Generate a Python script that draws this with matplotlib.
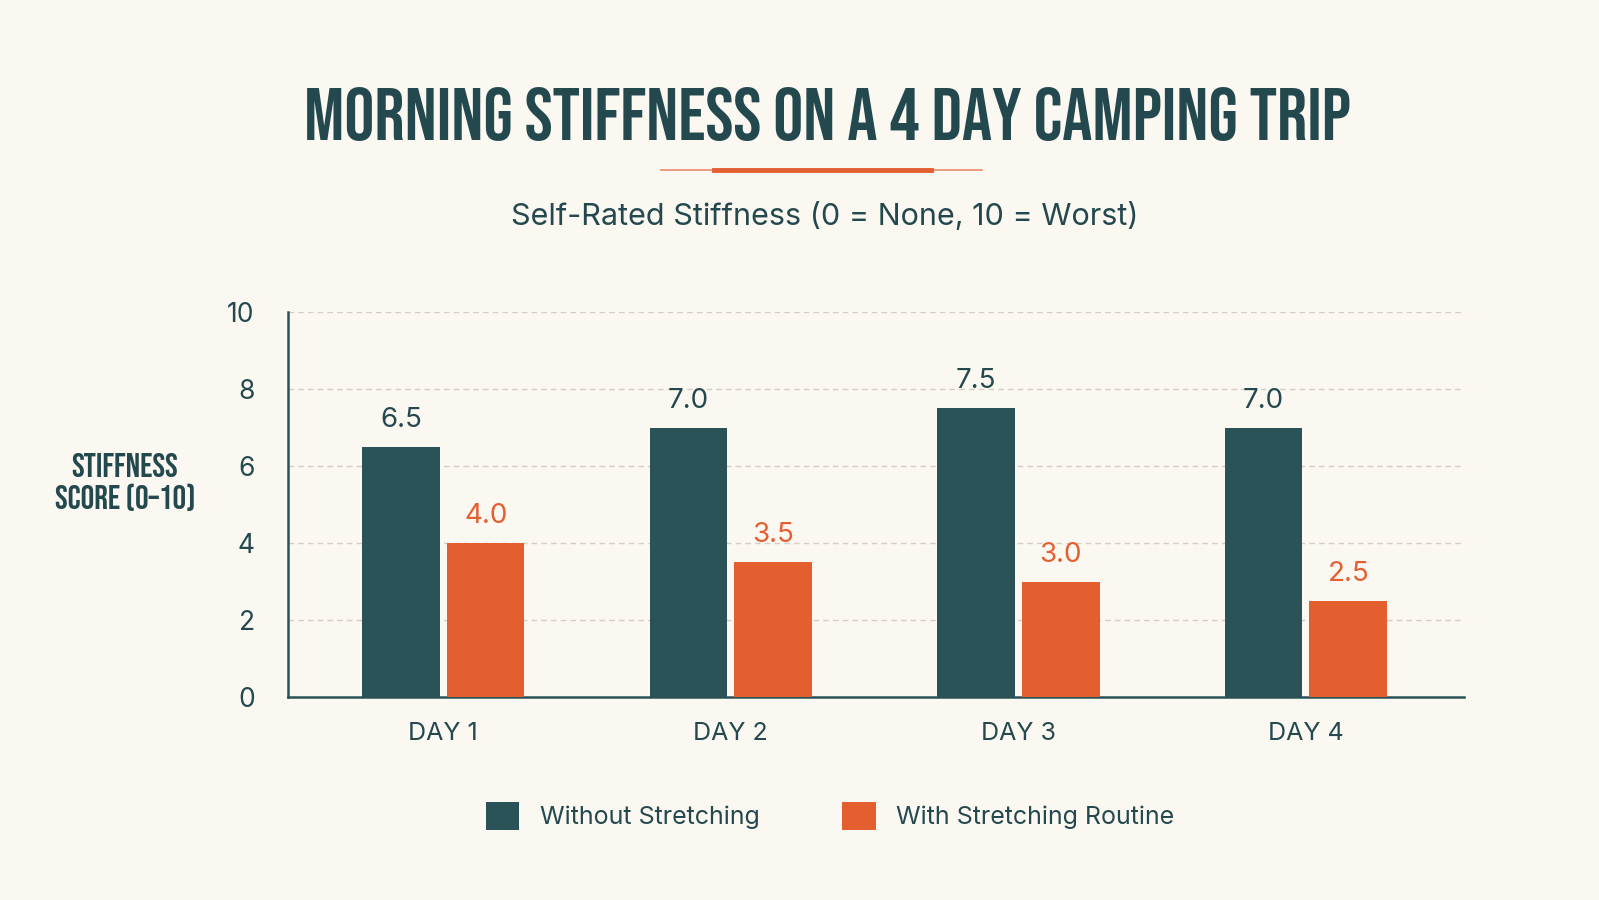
import matplotlib
matplotlib.use("Agg")
import matplotlib.pyplot as plt
from matplotlib.patches import Patch
from matplotlib.lines import Line2D
import numpy as np

days = ["DAY 1", "DAY 2", "DAY 3", "DAY 4"]
without_stretch = [6.5, 7.0, 7.5, 7.0]
with_stretch = [4.0, 3.5, 3.0, 2.5]
series_names = ["Without Stretching", "With Stretching Routine"]
yticks = [0, 2, 4, 6, 8, 10]

BG = "#FBF7F1"
TEAL = "#2A5257"
ORANGE = "#E35F30"
TXT = "#23494F"
COND = ["Bebas Neue", "Oswald", "League Gothic", "DejaVu Sans"]
BODY = ["Inter", "DejaVu Sans"]

W, H = 1599, 900
fig = plt.figure(figsize=(W / 100, H / 100), dpi=100, facecolor=BG)

ax = fig.add_axes([288 / W, 1 - 697 / H, (1464 - 288) / W, (697 - 312) / H])
ax.set_facecolor(BG)

x = np.arange(len(days))
bw = 0.27
gap = 0.025
off = bw / 2 + gap / 2
b1 = ax.bar(x - off, without_stretch, bw, color=TEAL, zorder=3)
b2 = ax.bar(x + off, with_stretch, bw, color=ORANGE, zorder=3)

for rect, v in zip(b1, without_stretch):
    ax.annotate(f"{v:.1f}", (rect.get_x() + rect.get_width() / 2, v),
                xytext=(0, 10), textcoords="offset points", ha="center", va="bottom",
                fontsize=20, color=TXT, family=BODY)
for rect, v in zip(b2, with_stretch):
    ax.annotate(f"{v:.1f}", (rect.get_x() + rect.get_width() / 2, v),
                xytext=(0, 10), textcoords="offset points", ha="center", va="bottom",
                fontsize=20, color=ORANGE, family=BODY)

ax.set_xlim(-0.54, 3.55)
ax.set_ylim(0, 10)
ax.set_yticks(yticks)
ax.set_yticklabels([str(t) for t in yticks], family=BODY, fontsize=19, color=TXT)
ax.set_xticks(x)
ax.set_xticklabels(days, family=BODY, fontsize=18, color=TXT)
ax.tick_params(axis="y", length=0, pad=24)
ax.tick_params(axis="x", length=0, pad=18)

for t in yticks[1:]:
    ax.axhline(t, color="#D3CFC8", lw=1.0, ls=(0, (4, 3)), zorder=1)

for s in ["top", "right"]:
    ax.spines[s].set_visible(False)
for s in ["left", "bottom"]:
    ax.spines[s].set_color(TEAL)
    ax.spines[s].set_linewidth(1.8)

fig.text(827 / W, 1 - 114 / H, "MORNING STIFFNESS ON A 4 DAY CAMPING TRIP",
         ha="center", va="center", fontsize=54, family=COND, color=TXT)

fig.add_artist(Line2D([661 / W, 982 / W], [1 - 170 / H] * 2, color=ORANGE, lw=1.2, alpha=0.7))
fig.add_artist(Line2D([714 / W, 931 / W], [1 - 170 / H] * 2, color=ORANGE, lw=3.5))

fig.text(825 / W, 1 - 217 / H, "Self-Rated Stiffness (0 = None, 10 = Worst)",
         ha="center", va="center", fontsize=22, family=BODY, color=TXT)

fig.text(125 / W, 1 - 482 / H, "STIFFNESS\nSCORE (0\u201310)", ha="center", va="center",
         fontsize=24.5, family=COND, color=TXT, linespacing=1.25)

handles = [Patch(facecolor=TEAL, edgecolor="none"), Patch(facecolor=ORANGE, edgecolor="none")]
fig.legend(handles, series_names, loc="center", bbox_to_anchor=(830 / W, 1 - 816 / H),
           ncol=2, frameon=False, prop={"family": BODY, "size": 18},
           handlelength=1.35, handleheight=1.35, handletextpad=0.82, columnspacing=3.3,
           labelcolor=TXT)

fig.savefig("out.png", dpi=100, facecolor=BG)
